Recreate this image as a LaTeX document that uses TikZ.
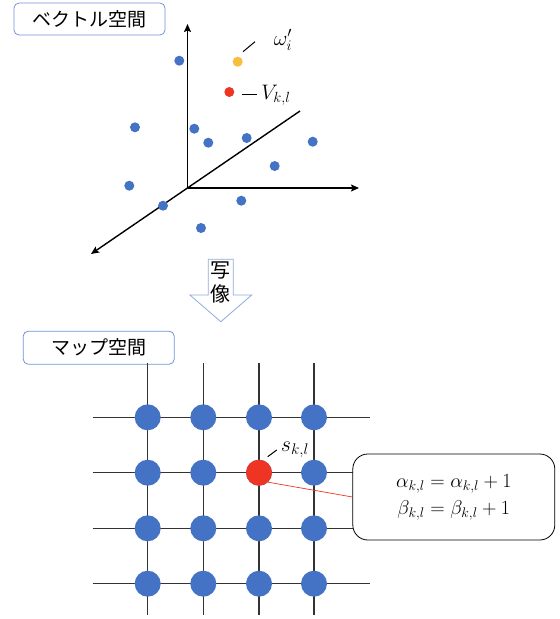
\documentclass[tikz,border=0pt]{standalone}
\usepackage{fix-cm}
\usepackage{fontspec}
\usepackage{amsmath}
\usetikzlibrary{arrows.meta}
\newfontfamily\jpfont{Noto Sans CJK JP}
\definecolor{ptblue}{HTML}{4472C4}
\definecolor{ptred}{HTML}{EE3524}
\definecolor{ptyellow}{HTML}{F6BD3E}
\definecolor{boxblue}{HTML}{6F93D8}
\definecolor{arrowblue}{HTML}{8EAADC}
\begin{document}
\begin{tikzpicture}[x=1pt, y=-1pt, >={Stealth[length=8pt,width=7pt,inset=1.5pt]},
    dot/.style={circle, fill=#1, inner sep=0pt, minimum size=10pt},
    dot/.default=ptblue,
    mapdot/.style={circle, fill=#1, inner sep=0pt, minimum size=26pt},
    mapdot/.default=ptblue,
    titlebox/.style={draw=boxblue, rounded corners=5pt, line width=0.8pt,
      minimum width=151pt, minimum height=32pt,
      font=\jpfont\fontsize{19}{22}\selectfont},
    axis/.style={line width=1.4pt},
    gridline/.style={line width=1.2pt, draw=black!80},
    mathlabel/.style={font=\fontsize{21}{25}\selectfont}]
  \useasboundingbox (0,0) rectangle (560,619);
  % vector space
  \node[titlebox] (vtitle) at (89.5,19) {ベクトル空間};
  \coordinate (O) at (187.5,188);
  \coordinate (zend) at (187.5,24);
  \coordinate (xend) at (359,188);
  \coordinate (yback) at (300,111);
  \coordinate (yend) at (91,254);
  \draw[axis,->] (O) -- (zend);
  \draw[axis,->] (O) -- (xend);
  \draw[axis,->] (yback) -- (yend);
  \foreach \x/\y [count=\i] in {179.3/60.7, 135/127.3, 194.3/128.7, 208.3/142.7,
      246.7/138, 312.7/141.7, 274.7/166, 129.3/185.7, 163/205.7,
      241.3/200.7, 201/228}
    \node[dot] (p\i) at (\x,\y) {};
  \node[dot=ptyellow] (w) at (237.7,61.7) {};
  \node[dot=ptred] (v) at (229.3,92) {};
  \node[mathlabel] (wlabel) at (283,40) {$\omega'_i$};
  \node[mathlabel] (vlabel) at (276,95) {$V_{k,l}$};
  \draw[line width=1pt] (243,51.7) -- (255,41.7);
  \draw[line width=1pt] (241.7,94) -- (256.7,94);
  % mapping arrow
  \draw[arrowblue, line width=0.8pt] (208.3,259.3) -- (233.3,259.3) -- (233.3,295)
    -- (251.7,295) -- (220.8,321.7) -- (189.9,295) -- (208.3,295) -- cycle;
  \node[font=\jpfont\fontsize{20}{24}\selectfont] (sha) at (220.8,270) {写};
  \node[font=\jpfont\fontsize{20}{24}\selectfont] (zo) at (220.8,294) {像};
  % map space
  \node[titlebox, minimum height=33pt] (mtitle) at (98.7,347.7) {マップ空間};
  \foreach \x in {147.7,203.3,259,314}
    \draw[gridline] (\x,363) -- (\x,615);
  \foreach \y in {417.3,472.7,528.3,583.7}
    \draw[gridline] (92.7,\y) -- (370,\y);
  \foreach \x [count=\i] in {147.7,203.3,259,314}
    \foreach \y [count=\j] in {417.3,472.7,528.3,583.7}
      \node[mapdot] (m\i\j) at (\x,\y) {};
  \node[mapdot=ptred] (s) at (259,472.7) {};
  \node[font=\fontsize{22}{26}\selectfont] (slabel) at (295,450) {$s_{k,l}$};
  \draw[line width=1pt] (267.7,456.7) -- (276.7,450);
  \node[draw, fill=white, rounded corners=15pt, line width=0.8pt,
    minimum width=202pt, minimum height=86pt, align=center,
    font=\fontsize{20}{27}\selectfont] (upd) at (453.8,497)
    {$\alpha_{k,l} = \alpha_{k,l} + 1$\\ $\beta_{k,l} = \beta_{k,l} + 1$};
  \draw[ptred, line width=0.7pt] (s.-46) -- (upd.west);
\end{tikzpicture}
\end{document}
